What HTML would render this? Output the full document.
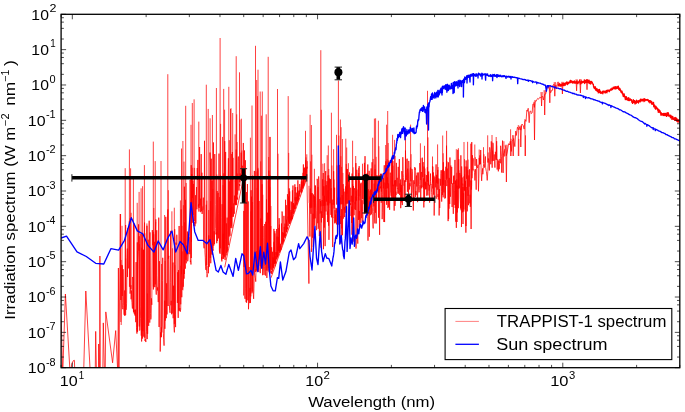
<!DOCTYPE html>
<html><head><meta charset="utf-8"><style>
html,body{margin:0;padding:0;background:#fff;width:685px;height:412px;overflow:hidden}
svg{display:block}
text{font-family:"Liberation Sans",sans-serif;fill:#000}
</style></head><body>
<svg width="685" height="412" viewBox="0 0 685 412">
<rect x="0" y="0" width="685" height="412" fill="#fff"/>
<defs><clipPath id="ax"><rect x="61.1" y="14.3" width="618.7" height="353.4"/></clipPath></defs>

<g clip-path="url(#ax)">
<path d="M60,300 L61.5,330 L62.7,375 L65.4,294 L70.2,375 L69.9,375 L71.9,363.6 L73.3,360.7 L74.4,360.3 L74.9,375 L83.6,375 L85.8,291 L90.4,375 L95.2,375 L95.7,331.4 L96.5,375 L98.4,375 L98.7,344 L99.3,375 L99.6,375 L99.9,256 L100.3,375 L102.8,375 L103.3,322.9 L104.5,375 L105.2,375 L105.8,311.9 L112.6,362.8 L115.7,330.6 L117.9,375 L118.4,268 L118.9,375 L120.3,214 L120.8,322 M121.2,325 L121.5,300 L121.5,291.05 L121.82,264.88 L122.19,302.68 L122.39,307.5 L122.88,309.25 L123.09,269.17 L123.28,276.86 L123.59,305.77 L123.92,314.24 L124.41,315.13 L124.68,290.47 L124.87,315.92 L125.16,296.45 L125.63,225.02 L125.92,309.5 L126.18,309.85 L126.59,303.78 L127.02,257.37 L127.33,248.56 L127.54,277.01 L127.79,228.11 L128.02,230.99 L128.4,268.36 L128.82,267.23 L129.01,247.28 L129.3,221.39 L129.62,277.45 L130.09,293.63 L130.5,289.7 L130.95,285.25 L131.13,299.22 L131.38,290.5 L131.6,298.15 L131.95,302.49 L132.42,308.54 L132.67,276.96 L133.03,280.14 L133.49,312.33 L133.85,223.06 L134.24,313.85 L134.57,314.38 L134.76,309.82 L135.16,315.81 L135.45,309.65 L135.75,322.18 L136.12,262.12 L136.48,327.48 L136.94,333.6 L137.3,242.37 L137.47,331.71 L137.87,261.3 L138.34,253 L138.57,224.39 L138.95,250.71 L139.18,236.18 L139.65,330.59 L139.92,330.11 L140.36,318.42 L140.68,306.95 L140.98,233.88 L141.47,330.96 L141.64,341.49 L142,322.63 L142.31,233.96 L142.55,338.56 L142.87,327.43 L143.35,317.9 L143.52,249.74 L143.74,336.59 L144.08,239.99 L144.54,222.6 L144.94,340.92 L145.41,339.15 L145.84,342.05 L146.07,334.67 L146.47,331.41 L146.96,225.74 L147.41,333.95 L147.72,333.45 L148.15,239.73 L148.37,318.79 L148.71,325.89 L149.18,220.72 L149.38,247.42 L149.75,322.63 L150.02,232.36 L150.48,313.43 L150.82,319.42 L151.15,317.1 L151.49,298.37 L151.81,304.84 L152.12,255.96 L152.32,230.07 L152.79,245.27 L153.26,232.16 L153.43,289.43 L153.7,234.29 L153.9,287.12 L154.24,260.82 L154.55,241.86 L154.92,287.17 L155.37,233.04 L155.8,219.34 L156.04,290.52 L156.28,294.62 L156.72,230.25 L156.93,275.82 L157.32,290.64 L157.65,287.41 L157.88,290.39 L158.06,293.11 L158.27,302.1 L158.76,217.63 L159.08,327 L159.41,261.18 L159.58,282.54 L159.99,318.75 L160.21,351.53 L160.64,332.43 L160.94,337.42 L161.37,327.35 L161.79,332.41 L162.25,326.04 L162.55,280.42 L162.71,257.79 L163.09,325.06 L163.36,333.75 L163.66,339.45 L164.07,345.63 L164.48,314.91 L164.77,300.68 L165.23,320.66 L165.59,317.14 L165.78,216.81 L165.99,299.47 L166.32,318.16 L166.63,283.32 L167.01,314.36 L167.27,284.82 L167.45,219.15 L167.86,209.46 L168.34,258.69 L168.82,255.89 L169.3,304.48 L169.73,310.62 L170.05,312.8 L170.25,282.46 L170.61,230.89 L170.95,305.26 L171.2,300.8 L171.57,314.26 L171.92,311.79 L172.15,303.84 L172.6,274.96 L172.97,262.53 L173.16,318.23 L173.53,285.71 L173.94,325.37 L174.38,332.38 L174.68,229.19 L174.97,260.23 L175.38,314.5 L175.58,327.11 L175.93,242.6 L176.19,244.76 L176.38,235.82 L176.78,234.75 L177.06,235.3 L177.42,302.95 L177.73,272.23 L178.2,317.9 L178.48,270.09 L178.78,310.73 L179.12,225.99 L179.58,310.71 L179.91,308.1 L180.29,311.71 L180.72,309.21 L181.18,209.41 L181.56,274.21 L181.98,251.38 L182.46,289.6 L182.86,290.15 L183.3,281.56 L183.74,269.56 L184.08,278.65 L184.38,186.7 L184.87,221.58 L185.14,263.46 L185.34,268.66 L185.52,199.84 L185.99,241.34 L186.23,263.34 L186.46,245.64 L186.87,255.25 L187.2,250.06 L187.47,231.58 L187.66,261.29 L187.99,259.81 L188.38,252.58 L188.7,253.55 L189.06,237.19 L189.51,251.62 L189.77,249.75 L189.93,254.19 L190.12,179.89 L190.32,262.05 L190.68,260.68 L190.98,264.49 L191.22,165.15 L191.48,241.61 L191.75,174.08 L191.95,193.21 L192.43,197.9 L192.83,180.89 L193.15,214.9 L193.38,183.93 L193.65,196.1 L194.03,225.88 L194.31,221.83 L194.58,222.24 L194.97,226.29 L195.41,222.58 L195.63,195.19 L195.82,223.49 L196.19,200.45 L196.49,187.08 L196.89,209.26 L197.26,168.02 L197.46,179.78 L197.88,159.93 L198.35,206.57 L198.56,204.29 L198.96,211.62 L199.33,201.26 L199.58,147.04 L199.86,205.44 L200.35,198.65 L200.7,212.18 L201.19,154.12 L201.45,211.26 L201.89,172.7 L202.08,213.97 L202.55,210.27 L202.96,206.28 M203,210.21 L203.34,197.61 L203.59,242.32 L203.76,245.33 L204.11,248.31 L204.49,140.81 L204.92,252.08 L205.26,257.46 L205.56,266.35 L205.95,269.92 L206.35,204.77 L206.53,271.57 L206.82,273.61 L207.06,277.2 L207.51,274.55 L207.8,273.46 L208.15,266.31 L208.35,273.13 L208.58,243.52 L208.76,235.41 L209.11,266.8 L209.56,263.74 L210.03,152.54 L210.48,165.91 L210.75,263.22 L211.23,158.73 L211.41,180.56 L211.67,251.9 L211.87,254.38 L212.1,180.62 L212.32,254.83 L212.74,248.76 L213.08,250.67 L213.46,142.47 L213.76,245.68 L214.11,231.3 L214.53,244.13 L214.77,154.05 L215.24,204.62 L215.64,228.42 L215.98,234.3 L216.39,232.48 L216.77,243.22 L217.18,191.03 L217.42,241.02 L217.83,195.81 L218.15,192.85 L218.54,238.39 L218.7,213.51 L219,153.61 L219.35,249.83 L219.55,252.65 L219.81,197.14 L220,253.85 L220.21,252.76 L220.39,223.73 L220.62,175.53 L221.1,217.57 L221.5,259.51 L221.7,256.84 L221.87,261.43 L222.11,204.2 L222.34,229.05 L222.82,258.93 L223.18,233.68 L223.57,258.81 L223.88,173.43 L224.1,249.46 L224.44,219.1 L224.7,141.09 L225.08,260.06 L225.46,239.29 L225.62,151.96 L226.01,227.06 L226.22,255.43 L226.61,223.38 L226.8,252.91 L227.13,217.6 L227.36,251.6 L227.53,247.47 L227.74,248.02 L228.11,178.78 L228.4,158.26 L228.63,245.09 L228.8,236.47 L229.27,181.35 L229.72,234.24 L230.19,235.66 L230.38,208.34 L230.64,217.63 L230.85,178.43 L231.09,210 L231.39,226.36 L231.72,206.95 L231.9,228.21 L232.22,211.88 L232.39,151.99 L232.73,194.07 L233.09,216.61 L233.55,215.19 L233.84,203.41 L234.27,213.74 L234.44,195.61 L234.91,204.39 L235.14,180.22 L235.43,182.66 L235.8,205.26 L236.22,149.63 L236.48,204.84 L236.95,197.61 L237.27,197.64 L237.67,199.58 L237.93,173.63 L238.13,161.29 L238.33,156.53 L238.64,185.88 L238.82,190.38 L239.11,190.54 L239.37,183.93 L239.8,186.09 L240.16,173.37 L240.53,177.73 L240.69,174.72 L240.9,179.77 L241.18,152.67 L241.38,171.49 L241.78,178.98 L242.11,168.23 L242.37,165.73 L242.73,167.63 L243.11,175.51 L243.32,142.96 L243.5,178 L224.7,267.4 M243.5,295.56 L243.82,210.95 L244.05,267.06 L244.22,167.29 L244.46,150.47 L244.67,295.46 L245.06,298.87 L245.38,160.25 L245.79,288.44 L246.15,302.11 L246.36,192.06 L246.6,302.72 L247.04,230.79 L247.43,184.02 L247.83,300.34 L248.26,201.44 L248.49,309.23 L248.71,302.27 L249.1,266.98 L249.52,292.18 L249.77,303.12 L250.09,287.94 L250.34,302.9 L250.64,298.05 L251.08,190.24 L251.26,275.66 L251.48,196.65 L251.68,289.6 L251.93,293.31 L252.12,292.8 L252.33,283.08 L252.67,175.63 L253.03,204.38 L253.3,294.25 L253.63,298.84 L253.91,288.9 L254.11,278.7 L254.35,170.93 L254.54,273.05 L254.94,275.48 L255.33,277.72 L255.74,281.64 L256.03,269.15 L256.26,270.27 L256.65,251.21 L257.04,265.13 L257.46,269.02 L257.62,168.79 L258.02,170.95 L258.35,257.15 L258.57,264.01 L258.78,271.98 L259.03,200.99 L259.26,258.89 L259.62,259.37 L259.8,250.05 L260.25,273.16 L260.5,257.09 L260.84,218.5 L261.14,266.26 L261.36,267.64 L261.59,264.01 L262.02,184.27 L262.35,245.35 L262.64,275.21 L262.99,226.01 L263.18,237.76 L263.57,269.88 L263.75,270.94 L264.02,274.89 L264.44,266.48 L264.73,224.01 L264.97,268.76 L265.41,275.59 L265.76,221.81 L266.03,259.57 L266.24,252.12 L266.51,199.34 L266.85,277.92 L267.22,264.84 L267.37,261.23 L267.53,212.71 L267.84,214.34 L268.03,270.68 L268.33,180.51 L268.55,223.26 L268.87,170.59 L269.05,272.19 L269.36,266.24 L269.8,175.21 L270.17,272.93 L270.33,240.52 L270.77,226.07 L270.94,260.51 L271,273.64 L271.28,273.3 L271.56,273.36 L271.71,270.88 L271.9,273.72 L272.16,270.91 L272.34,271.28 L272.54,251.77 L272.74,270.77 L272.84,257.31 L273.01,257.32 L273.23,267.45 L273.48,268.28 L273.74,240.58 L273.92,228.89 L274.19,263.51 L274.45,245.76 L274.56,258.63 L274.79,231.17 L275.04,266.26 L275.22,255.85 L275.34,262.17 L275.51,260.65 L275.76,263.67 L276.03,262.34 L276.19,254.92 L276.33,252.29 L276.6,259.35 L276.79,243.7 L277.07,236.58 L277.19,258.5 L277.33,257.42 L277.5,247.2 L277.77,246.56 L277.97,256.38 L278.11,252.99 L278.26,236.99 L278.45,248.05 L278.73,247.3 L278.88,227.92 L278.99,251.26 L279.15,218.17 L279.41,252.89 L279.55,249.78 L279.67,249.54 L279.96,249.59 L280.2,245.54 L280.36,251.23 L280.51,243.8 L280.66,247.68 L280.86,248.35 L281.13,245.36 L281.34,241.02 L281.49,223.49 L281.64,243.05 L281.88,244.14 L282.05,211.48 L282.29,213.29 L282.41,244.62 L282.57,244.44 L282.68,242.11 L282.92,238.43 L283.03,242.83 L283.21,242.6 L283.39,232.72 L283.68,240.86 L283.85,233.28 L284.14,234.87 L284.24,226.89 L284.48,235.61 L284.6,234.86 L284.87,237.95 L285.14,234.58 L285.39,236.43 L285.65,235.62 L285.82,234.92 L286.07,231.82 L286.24,205.22 L286.37,231.76 L286.57,219.7 L286.72,232.24 L286.86,227.66 L287.02,228.46 L287.23,228.81 L287.41,228.71 L287.7,228.89 L287.95,227.27 L288.13,216.6 L288.38,219.02 L288.55,196.47 L288.68,221.69 L288.97,208.59 L289.26,222.97 L289.49,220.86 L289.68,191.37 L289.8,221.8 L289.91,216.37 L290.12,223.29 L290.41,220.51 L290.52,217.68 L290.72,219.85 L290.88,210.04 L291.15,216.09 L291.44,220.56 L291.62,201.69 L291.76,218.83 L292.02,215.98 L292.12,219.16 L292.28,205.76 L292.44,190.31 L292.66,213.08 L292.94,185.51 L293.21,214.1 L293.51,213.28 L293.65,213.06 L293.81,203.81 L294.01,209.3 L294.11,212.01 L294.33,205.31 L294.52,208.51 L294.71,191.68 L294.86,184.35 L295.06,200.36 L295.35,187.16 L295.55,208.88 L295.69,202.81 L295.97,202.17 L296.24,205.62 L296.4,200.68 L296.57,197.31 L296.85,199.17 L296.97,202.78 L297.11,203.67 L297.34,187.02 L297.45,198.33 L297.72,196.29 L297.92,201.35 L298.18,190.62 L298.43,199.56 L298.57,196.25 L298.74,194.34 L299.03,194.13 L299.19,192.78 L299.39,193.82 L299.59,190.63 L299.74,196.52 L299.85,193.37 L300.07,190.97 L300.37,191.68 L300.6,191.67 L300.89,192.32 L301.19,192.43 L301.3,180.76 L301.55,178.07 L301.78,191.69 L301.97,188.97 L302.09,180.52 L302.27,187.3 L302.52,185.49 L302.74,186.69 L302.94,188.24 L303.12,187.49 L303.39,164.45 L303.51,186.74 L303.79,168.43 L303.94,185.46 L304.11,180.64 L304.27,172.27 L304.46,167.62 L304.65,176.88 L304.91,178.69 L305.07,175.24 L305.31,169.58 L305.51,178.32 L305.62,169.05 L305.77,160.12 L305.91,176.34 L306.17,176.14 L306.41,177.78 L306.56,173.02 L306.86,166.71 L306.9,178.2 L271,277.8 M271,263.42 L271.31,269.86 L271.65,247.25 L271.92,258.13 L272.21,264.74 L272.65,267.09 L273,267.14 L273.24,257.8 L273.39,264.72 L273.8,267.42 L273.99,242.21 L274.36,263.88 L274.52,246.05 L274.88,233.41 L275.1,237.85 L275.42,262.53 L275.63,259.12 L275.89,252.16 L276.28,255.01 L276.65,228.99 L277.06,239.17 L277.22,251.54 L277.53,256.9 L277.79,252.5 L277.96,255.55 L278.32,253.93 L278.68,242.51 L278.93,250.84 L279.17,240.52 L279.4,224.58 L279.69,251.29 L280.07,246.17 L280.37,247.75 L280.66,247.13 L281.08,249.71 L281.47,247.7 L281.88,243.7 L282.25,237.13 L282.57,232.19 L282.97,241.65 L283.28,241.29 L283.59,241.8 L283.74,237.98 L283.92,215.85 L284.25,236.83 L284.67,236.56 L284.98,223.61 L285.32,236.02 L285.54,199.79 L285.85,218.98 L286.08,228.84 L286.25,229.65 L286.41,225.2 L286.85,230.38 L287.05,227.09 L287.22,229.12 L287.44,194.23 L287.66,197.3 L288.02,225.85 L288.42,223.29 L288.76,207.58 L289.06,214.42 L289.22,188.38 L289.48,223.98 L289.91,201.31 L290.23,220.46 L290.59,217.78 L290.88,215.75 L291.26,212.12 L291.46,219.51 L291.61,218.78 L292.02,216.88 L292.2,217.28 L292.39,216.35 L292.7,213.45 L293.02,214.19 L293.35,211.61 L293.5,203.02 L293.94,207.12 L294.3,206.22 L294.46,209.22 L294.85,204.82 L295.25,197.16 L295.62,201.63 L296.06,198.7 L296.51,199.26 L296.7,192.65 L296.89,204.47 L297.13,197.76 L297.53,200.84 L297.89,180.32 L298.1,200.47 L298.25,199.16 L298.7,199.3 L298.92,195.67 L299.35,194.57 L299.72,184.1 L299.92,185.94 L300.12,186.9 L300.32,191.2 L300.76,188.6 L301.16,186.66 L301.42,181.57 L301.58,192.77 L301.89,182.21 L302.29,188.72 L302.65,184.43 L303.06,172.82 L303.4,181.81 L303.7,181.73 L304,184.29 L304.35,176.94 L304.66,177.51 L304.95,175.76 L305.21,181.99 L305.56,181.43 L305.84,176.17 L306.1,177.75 L306.51,178.55 L306.71,167.68 L308.9,283.6 L309.2,240 M309,185.81 L309.23,202.61 L309.57,203.76 L309.77,230.45 L309.92,236.54 L310.05,194.21 L310.38,188.55 L310.69,209.48 L310.96,213.84 L311.19,192.97 L311.36,251.87 L311.64,250 L311.98,228.65 L312.25,193.23 L312.59,237.69 L312.9,231.29 L313.05,213.66 L313.3,246.96 L313.48,194.52 L313.74,202.14 L314.03,218.77 L314.34,196.01 L314.62,225.71 L314.92,197.03 L315.06,209.49 L315.22,218.31 L315.5,185.58 L315.7,198.3 L316.06,216.42 L316.32,229.17 L316.59,230.16 L316.85,210.4 L317.18,178.83 L317.54,181.98 L317.75,223.21 L317.97,186.92 L318.17,228.82 L318.37,227.72 L318.66,176.39 L318.98,184.36 L319.16,225.86 L319.36,236.13 L319.7,228.15 L319.89,199.07 L320.04,213.49 L320.32,213.05 L320.5,200.98 L320.8,212.64 L321,247.68 L321.24,211.31 L321.46,222.36 L321.65,205.53 L321.92,201.15 L322.23,200 L322.38,217.88 L322.52,213.31 L322.64,179.35 L322.87,191.5 L323,195.64 L323.22,173 L323.43,249.21 L323.77,223.81 L323.92,186.32 L324.23,227.66 L324.38,219.69 L324.52,195.79 L324.88,212.02 L325.14,246.14 L325.44,175.17 L325.71,171.08 L325.99,211.49 L326.15,185.07 L326.39,201.6 L326.69,195.69 L327,181.16 L327.31,214.81 L327.44,211.54 L327.6,222.08 L327.83,200.9 L328.06,190.32 L328.37,198.83 L328.57,225.67 L328.69,175.33 L328.94,239.85 L329.08,228.1 L329.26,208.26 L329.54,178.48 L329.76,191.66 L329.99,203.27 L330.17,200.7 L330.32,196.51 L330.49,179.17 L330.61,199.55 L330.97,214.9 L331.13,188.18 L331.45,217.24 L331.75,203.09 L332.06,217.41 L332.21,199.63 L332.37,209.85 L332.71,247.06 L332.94,217.65 L333.12,218.04 L333.4,198.36 L333.62,171.18 L333.85,186.14 L334.08,208.53 L334.37,200.49 L334.62,187.7 L334.78,223.37 L334.98,210.12 L335.11,222.84 L335.46,214.54 L335.78,221.43 L335.99,207.83 L336.18,221.64 L336.5,224.4 L336.71,208.67 L336.84,212.79 L337.14,208.29 L337.45,235.57 L337.59,210.85 L337.9,220.19 L338.19,197.5 L338.4,224.59 L338.63,208.52 L338.95,189.85 L339.29,164.91 L339.63,175.33 L339.79,217.27 L340.11,203.63 L340.25,197.53 L340.58,224.01 L340.86,216.05 L341.19,243.66 L341.43,219.23 L341.62,209.16 L341.84,228.38 L342.16,195.08 L342.29,205.06 L342.5,235.23 L342.67,209.87 L342.89,206.53 L343.14,184.17 L343.33,218.62 L343.45,196.2 L343.69,188.74 L343.9,203.29 L344.09,210.23 L344.29,207.55 L344.52,207.11 L344.65,217.05 L344.87,191.62 L345.12,212.65 L345.43,205.21 L345.68,186.44 L345.98,204.47 L346.22,213.12 L346.56,168.93 L346.85,193.84 L347.1,184.81 L347.36,168.96 L347.68,197.79 L347.82,203.58 L348.08,177.17 L348.42,223.38 L348.63,209.56 L348.97,215.26 L349.13,223.61 L349.43,172.39 L349.62,204.86 L349.96,215.98 L350.25,203.19 L350.58,205.06 L350.72,187.76 L351.01,201.63 L351.36,195.78 L351.6,222.98 L351.8,206.61 L351.95,234.68 L352.1,173.56 L352.33,198 L352.47,229.35 L352.67,184.27 L352.9,213.06 L353.16,241.58 L353.5,186.07 L353.82,203.52 L354.05,215.23 L354.32,188.13 L354.68,190.87 L354.87,209.31 L355.05,202.29 L355.34,204.13 L355.52,196.7 L355.7,210.03 L355.88,163.1 L356.02,248.55 L356.32,190.92 L356.55,200.3 L356.79,169.76 L356.98,174.32 L357.17,196.54 L357.45,229.88 L357.62,239.11 L357.79,243.64 L358.13,189.54 L358.46,219.91 L358.71,173.02 L358.85,196.37 L359.17,166.13 L359.3,227.27 L359.54,211.1 L359.87,219.6 L360.16,198.8 L360.43,193.86 L360.71,183.6 L360.84,222.95 L361.16,182.65 L361.39,204.9 L361.67,218.15 L361.92,200.43 L362.14,200.12 L362.32,200.91 L362.54,211.47 L362.82,221.74 L362.95,184.92 L363.28,176.34 L363.54,180.36 L363.75,194.87 L364.03,204.17 L364.16,181.97 L364.44,162.87 L364.71,214.11 L365.02,156.17 L365.38,194.92 L365.65,198.5 L365.92,213.43 L366.13,179.19 L366.25,209.45 L366.61,175.86 L366.87,215.41 L367.23,173.04 L367.46,211.07 L367.58,186.38 L367.78,164.46 L367.99,240.65 L368.18,193.86 L368.37,189.3 L368.59,213.27 L368.81,213.03 L369.12,170.84 L369.29,236.75 L369.53,196.62 L369.73,199.02 L370.06,190.8 L370.31,215.24 L370.49,189.59 L370.7,194.34 L370.88,207.48 L371.17,168.41 L371.44,214.36 L371.57,174.31 L371.72,194.88 L372.08,162.26 L372.38,207.21 L372.65,213.52 L372.92,224.75 L373.16,228.4 L373.35,211.41 L373.48,192.59 L373.76,193.77 L373.96,206.37 L374.22,183.61 L374.56,216.97 L374.92,223.43 L375.1,169.33 L375.41,212.75 L375.55,205.72 L375.7,202.05 L375.99,190.75 L376.23,223.46 L376.37,193.59 L376.7,201.46 L376.93,175.15 L377.06,191.57 L377.3,188.4 L377.64,189.11 L377.94,185.1 L378.23,178.72 L378.48,217.69 L378.7,178.99 L378.89,190.01 L379.23,175.22 L379.43,215.19 L379.6,234.8 L379.9,192.09 L380.26,186.48 L380.42,188.3 L380.55,173.75 L380.9,176.23 L381.09,192.39 L381.24,202.75 L381.37,173.74 L381.58,191.61 L381.93,178.69 L382.17,219.16 L382.32,212.83 L382.65,194.61 L382.78,186.81 L383.07,178.8 L383.39,188.33 L383.54,177.83 L383.89,221.94 L384.14,170.96 L384.28,165.26 L384.41,215.99 L384.6,222.05 L384.81,198.27 L384.95,182.54 L385.17,197.91 L385.44,185.11 L385.69,182.87 L385.82,161.35 L386.01,199.47 L386.32,189.32 L386.63,204.78 L386.75,169.55 L387.05,181.69 L387.39,184.29 L387.56,177.33 L387.8,184.01 L387.94,208.05 L388.22,183.36 L388.37,190.34 L388.72,206.97 L388.93,160.56 L389.29,199.77 L389.63,209.77 L389.8,195.41 L389.94,187.25 L390.26,172.66 L390.4,175.66 L390.68,192.32 L390.94,193.11 L391.22,195.87 L391.37,158.59 L391.56,197.76 L391.69,200.75 L392.02,174.53 L392.25,160.54 L392.59,200.93 L392.91,161.08 L393.08,183.02 L393.38,190.18 L393.61,198.38 L393.84,184.65 L394.17,210.63 L394.5,180.57 L394.84,182.56 L394.97,205.93 L395.26,202.21 L395.41,179.99 L395.67,200.27 L395.81,191.66 L396.03,195.02 L396.35,162.89 L396.58,180.2 L396.89,186.48 L397.15,177.78 L397.38,188.99 L397.51,188.79 L397.74,188.44 L397.89,193.61 L398.22,166.84 L398.47,190.36 L398.79,193.73 L399.05,171.8 L399.18,168.01 L399.35,159.12 L399.7,195.08 L399.96,183.42 L400.21,187.9 L400.43,192.11 L400.6,179.49 L400.72,208.17 L401.05,187.8 L401.21,201.21 L401.39,184.94 L401.66,202.39 L401.84,171.16 L402.11,177.33 L402.29,205.06 L402.62,170.42 L402.82,157.21 L403.17,173.65 L403.45,177.45 L403.64,185.31 L403.91,184.82 L404.09,200.77 L404.24,195.65 L404.54,180.36 L404.89,194.29 L405.2,200.44 L405.47,150.53 L405.81,169.56 L406.01,169.91 L406.22,172.97 L406.5,177.64 L406.82,180.04 L406.95,172.62 L407.16,158.67 L407.41,191.8 L407.65,168.66 L407.94,171.44 L408.19,172.55 L408.34,178.46 L408.57,205.34 L408.76,160.92 L409.01,167.26 L409.18,179.8 L409.49,189.44 L409.67,186.15 L409.84,183.2 L410.09,186.29 L410.25,170.3 L410.52,167.52 L410.75,172.95 L410.99,174.14 L411.27,185.73 L411.53,201.77 L411.89,168.87 L412.19,170.1 L412.38,171.38 L412.68,190.91 L412.97,193.71 L413.32,210.52 L413.56,198.97 L413.78,180.32 L413.92,198.1 L414.21,182.67 L414.48,183.59 L414.77,167.07 L415.04,169.76 L415.32,168.38 L415.57,197.01 L415.86,191.05 L416.09,195.15 L416.25,177.7 L416.49,175.56 L416.82,186.51 L416.98,178.54 L417.23,172.65 L417.59,202.15 L417.71,193.92 L418.06,192.16 L418.34,172.51 L418.57,186.48 L418.79,190.6 L419.12,192.32 L419.35,190.72 L419.61,184.67 L419.8,163.06 L420.15,171.62 L420.41,174.05 L420.73,198.2 L420.97,185.62 L421.16,185.35 L421.38,188.29 L421.61,171.96 L421.87,174.18 L422.11,187.13 L422.29,157.66 L422.64,169.13 L422.82,177.14 L423.11,162.14 L423.29,188.42 L423.62,178.3 L423.84,207.44 L424.06,166.55 L424.31,173.29 L424.57,201.77 L424.71,174.16 L425.07,185.38 L425.38,181.5 L425.57,189.29 L425.81,182.69 L426.13,189.23 L426.25,182.25 L426.39,175.07 L426.74,195.69 L427.01,192.41 L427.35,167.2 L427.63,182.35 L427.87,194.6 L428.02,195.42 L428.18,174.5 L428.42,185.37 L428.68,171.53 L428.82,182.24 L429.07,190.56 L429.35,184.82 L429.61,202.55 L429.91,194.28 L430.27,181.72 L430.5,173.55 L430.64,181.61 L430.92,185.1 L431.06,184.42 L431.31,185.84 L431.61,192.48 L431.84,194.88 L432.2,199.08 L432.47,166.31 L432.75,188.38 L433.08,184.94 L433.38,172.44 L433.53,194.16 L433.69,194.69 L433.95,175.72 L434.17,215.5 L434.49,197.31 L434.79,177.74 L435.03,177.19 L435.31,187.36 L435.65,178.49 L435.89,171.84 L436.1,164.4 L436.22,198.71 L436.46,175.4 L436.75,182.87 L436.93,174.68 L437.2,189.74 L437.42,177.56 L437.73,169.9 L437.98,197.04 L438.16,194.13 L438.35,199.54 L438.65,178.66 L438.81,179.02 L438.98,178.76 L439.13,215.46 L439.48,189.14 L439.69,207.98 L439.97,186.22 L440.1,184.93 L440.28,178.94 L440.58,185.65 L440.83,173.82 L441.14,170.25 L441.3,173.7 L441.44,191.61 L441.7,201.58 L441.93,172.23 L442.21,170.38 L442.43,195.07 L442.76,169.56 L443.11,197.35 L443.4,162.28 L443.65,185.41 L443.93,192.44 L444.11,170.81 L444.38,173.01 L444.6,186.42 L444.89,198.64 L445.22,180.14 L445.45,197.91 L445.67,168.4 L445.97,166.73 L446.29,179.65 L446.51,145.68 L446.74,178.29 L447.06,175.18 L447.28,168.53 L447.49,179.69 L447.61,183.21 L447.96,204.06 L448.11,221.12 L448.42,162.3 L448.61,218.99 L448.75,190.59 L448.94,208.72 L449.26,177.88 L449.58,195.12 L449.72,203.95 L449.93,157.51 L450.12,187.8 L450.4,194.89 L450.53,196.66 L450.79,165.52 L451.01,174.2 L451.36,183.74 L451.69,166.96 L451.85,182.12 L452.11,207.04 L452.46,185.44 L452.81,183.19 L453.04,195.18 L453.31,213.84 L453.64,176.18 L453.87,184 L454.1,175.34 L454.26,204.9 L454.44,190.78 L454.69,190.62 L454.98,159.91 L455.25,208.03 L455.53,180.55 L455.73,221.69 L456.05,189.86 L456.34,227.86 L456.5,187.43 L456.71,179.31 L456.92,180.9 L457.08,201.7 L457.3,212.43 L457.5,204.53 L457.79,149.81 L458.12,207.84 L458.41,208.09 L458.76,159.24 L458.98,184.02 L459.18,185.78 L459.38,187.76 L459.68,187.87 L459.82,172.96 L460.14,197.93 L460.41,203.62 L460.59,208.42 L460.86,155.3 L461.09,210.24 L461.27,174.77 L461.48,227.04 L461.65,166.44 L462,184.56 L462.14,177.54 L462.38,212.37 L462.66,186.7 L462.8,183.69 L462.96,186.61 L463.15,199.58 L463.29,209.3 L463.6,193.2 L463.76,211.58 L463.89,204.53 L464.05,176.46 L464.36,190.8 L464.6,174.46 L464.72,187.7 L465.04,166.55 L465.19,209.55 L465.41,180.82 L465.55,187.66 L465.89,232.67 L466.14,160.43 L466.44,174.89 L466.6,178.81 L466.87,166.63 L467,198.73 L467.2,211.38 L467.43,208.37 L467.62,193.97 L467.81,170.16 L468.02,195.9 L468.15,190.07 L468.5,205.2 L468.85,175.4 L469.1,186.69 L469.32,182.77 L469.59,169.28 L469.79,203.35 L470.07,194.69 L470.29,206.8 L470.54,198.13 L470.83,189 L470.99,143.72 L471.26,189.64 L471.55,185.72 L471.76,142.09 L471.98,178.22 L472.21,173.62 L472.4,155.21 L472.72,166.33 L472.97,170.38 L473.24,165.93 L473.59,158.38 L473.83,158.36 M474,169.15 L474.52,172.43 L474.92,180.45 L475.46,169.24 L475.92,176.9 L476.19,189.68 L476.59,159.03 L476.9,166.9 L477.17,166.76 L477.63,167.81 L478.1,164.71 L478.47,191.27 L478.85,178.68 L479.24,157.88 L479.74,164.01 L479.96,155.4 L480.46,164.2 L480.7,149.99 L481.2,172.73 L481.65,180.87 L482.1,172.88 L482.6,168.38 L482.84,174.26 L483.38,166.24 L483.84,164.08 L484.37,167.65 L484.91,161.15 L485.41,156.47 L485.61,167.33 L486.19,170.9 L486.41,171.74 L486.91,176.82 L487.22,180.4 L487.81,171.71 L488.37,158.51 L488.87,160.57 L489.33,170.47 L489.73,147.33 L490.32,151.34 L490.77,164.26 L491.29,141.39 L491.6,149.05 L492.16,167.69 L492.37,154.77 L492.81,142.71 L493.23,143.76 L493.72,160.86 L494.19,154.43 L494.56,161.81 L494.91,167.62 L495.4,151.81 L495.62,157.03 L496.14,159.98 L496.65,141.16 L496.88,157.18 L497.2,169.53 L497.73,159.37 L498.11,160.31 L498.33,171.35 L498.77,160.79 L499.19,169.21 L499.6,163.3 L499.92,158.95 L500.31,163.22 L500.66,145.78 L500.97,150.51 L501.41,156.63 L501.69,172.56 L502.13,155.72 L502.54,140.62 L503.11,172.88 L503.45,155.22 L503.76,153.16 L504.03,153 L504.27,151.07 L504.84,148.82 M505,145.53 L505.74,147.92 L506.24,155.8 L506.95,153.38 L507.41,150.99 L508.56,143.7 L509.42,144.94 L510.29,141.25 L511.32,151.44 L512.08,141.21 L513.14,140.01 L513.67,138.56 L514.83,146.61 L515.75,131.14 L516.29,135.47 L517.44,127.21 L518.46,129.05 L519.04,129.91 L519.56,126.76 L520.87,130.14 L521.37,127.69 L521.91,124.04 L523.19,125.53 L524.17,129.1 L524.98,119.43 L526.05,121.33 L526.84,110.25 L527.35,111.29 L528.19,108.28 L529.19,122.71 L529.82,111.49 L530.73,111.04 L531.25,113.67 L532.18,112.65 L532.82,104.16 L533.91,103.93 L534.4,107.4 L535.01,100.32 L535.72,101.61 L536.99,99.53 L537.64,98.46 L538.5,99.22 L539.82,97.26 L540.76,97.86 L541.78,96.68 L542.78,96.53 L543.44,100 L544.68,94.26 L545.85,93.77 L546.58,89.41 L547.57,86.78 L548.52,86.41 L549.18,88.92 L549.68,89.6 L550.65,92.75 L551.97,89.78 L552.55,90.22 L553,85.4 L553.8,84.27 L554.31,87.11 L554.98,87.73 L555.86,85.11 L556.52,89.04 L557.42,82.36 L558.59,82.12 L559.74,86.75 M505.8,144.76 L506.4,182 L507,144.76 M512.6,135.16 L513.2,156 L513.8,135.16 M520.2,125.56 L520.8,147 L521.4,125.56 M533.9,101.8 L534.5,140 L535.1,101.8 M544.1,90.18 L544.7,115 L545.3,90.18 M541,92.04 L541.6,106 L542.2,92.04 M549.2,85.2 L549.8,102.8 L550.4,85.2 M554.2,82.12 L554.8,96.2 L555.4,82.12 M561.8,81.82 L562.4,94 L563,81.82 M576,79.35 L576.6,90.8 L577.2,79.35 M579.8,79 L580.4,93 L581,79 M586.4,79 L587,89.7 L587.6,79 M470.5,180.4 L471.1,229 L471.7,180.4 M465.4,187 L466,226 L466.6,187 M456.4,185.62 L457,222 L457.6,185.62 M462.4,187 L463,224 L463.6,187" fill="none" stroke="#ff0000" stroke-width="0.75" stroke-linejoin="bevel"/>
<path d="M558,84.96 L558.13,84.28 L558.32,85.94 L558.47,85.81 L558.67,85.38 L558.95,84.02 L559.2,84.55 L559.43,83.8 L559.72,84.05 L559.93,84.36 L560.13,85.6 L560.27,84.74 L560.47,84.5 L560.7,86.09 L560.8,85.22 L560.98,85.97 L561.21,84.54 L561.45,84.96 L561.75,85.77 L561.97,85.44 L562.19,83.91 L562.49,84.78 L562.77,83.48 L563,85.35 L563.26,85.06 L563.4,84.74 L563.55,85.47 L563.69,83.11 L563.89,85.67 L564.11,83.85 L564.39,84.8 L564.68,84.19 L564.84,83.29 L565,83.33 L565.16,85.25 L565.45,83.18 L565.57,82.99 L565.86,82.83 L566.11,83.55 L566.24,83.9 L566.4,82.84 L566.52,83.1 L566.64,82.77 L566.77,81.96 L566.97,83.9 L567.18,82.97 L567.44,84.52 L567.69,83.09 L567.94,82.27 L568.23,83.42 L568.34,83.59 L568.63,83.07 L568.76,82.79 L569.02,83.18 L569.23,82.16 L569.37,82.03 L569.59,82.11 L569.71,81.79 L569.87,81.46 L570,82.38 L570.12,80.79 L570.35,80.36 L570.63,82.54 L570.8,82.5 L571.07,80.75 L571.35,80.9 L571.65,81.96 L571.76,82.06 L571.98,81.69 L572.15,82.74 L572.25,81.89 L572.4,81.37 L572.61,82.96 L572.85,82.25 L572.97,81.53 L573.18,81.61 L573.3,81.76 L573.51,82.84 L573.74,82.71 L573.91,81.82 L574.05,82.13 L574.19,81.49 L574.33,80.97 L574.52,83.05 L574.78,81.41 L574.93,82.66 L575.11,82.44 L575.3,82.15 L575.45,82.28 L575.59,83.13 L575.81,82.98 L575.96,82.56 L576.1,83 L576.38,81.35 L576.5,82.62 L576.7,82.97 L576.97,83.1 L577.07,80.98 L577.18,81.87 L577.28,83 L577.45,83.38 L577.59,83.4 L577.76,82.93 L577.88,83.58 L578.07,82.32 L578.37,82.77 L578.61,82.1 L578.9,81.41 L579.2,81.74 L579.31,81.68 L579.52,80.53 L579.82,82.19 L580.08,82.14 L580.3,84.04 L580.41,82.52 L580.67,83.88 L580.92,81.87 L581.2,81.78 L581.36,82.04 L581.56,80.94 L581.77,83.19 L581.95,81.17 L582.22,82.23 L582.38,82.54 L582.49,81.86 L582.78,81.93 L583.05,81.62 L583.2,81.94 L583.45,81.81 L583.64,82.23 L583.85,82.43 L584.07,82.44 L584.32,79.89 L584.47,83.22 L584.72,83.42 L584.93,82.73 L585.06,82.54 L585.19,80.42 L585.46,82.61 L585.72,81.71 L585.96,81.2 L586.13,81.61 L586.39,82.33 L586.5,80.11 L586.72,81.82 L586.82,81.46 L587.1,82.25 L587.27,80.81 L587.46,82.17 L587.7,81.74 L587.94,80.21 L588.17,82.55 L588.44,82.41 L588.6,82.9 L588.8,82.23 L589.08,80.16 L589.35,83.47 L589.6,82.04 L589.72,81.49 L589.84,82.75 L590.12,81.88 L590.24,82.71 L590.45,81.33 L590.67,83.96 L590.86,82.49 L591.1,82.58 L591.32,81.47 L591.5,82.44 L591.78,82.97 L592.04,82.65 L592.2,82.07 L592.36,83.21 L592.61,83.67 L592.86,84.16 L593.03,84.02 L593.25,84.08 L593.37,84.76 L593.59,86.76 L593.79,87.38 L594.06,87.5 L594.21,87.77 L594.36,88.66 L594.48,88.69 L594.76,88.43 L595.01,86.8 L595.28,87.51 L595.43,86.94 L595.72,90.15 L595.95,88.42 L596.07,88.48 L596.24,89.27 L596.47,90.42 L596.69,89.54 L596.83,89.62 L596.95,88.6 L597.15,91.26 L597.41,90.61 L597.67,91.28 L597.83,90.67 L598.06,89.97 L598.16,89.62 L598.34,92.85 L598.49,92.21 L598.73,91.24 L598.93,90.76 L599.08,90.82 L599.24,91.58 L599.36,92.64 L599.48,89.47 L599.74,91.48 L599.97,91.63 L600.18,91.2 L600.28,91.56 L600.4,91.78 L600.53,91.34 L600.67,92.62 L600.79,93.31 L601.08,93.35 L601.36,92.44 L601.64,92.5 L601.74,92.77 L602.04,93.01 L602.32,92.48 L602.57,91.53 L602.86,93.77 L603.11,90.88 L603.37,91.86 L603.58,91.32 L603.87,91.94 L604.06,92.02 L604.33,91.87 L604.62,91.23 L604.87,92.2 L605.14,93.1 L605.24,92.63 L605.51,91.44 L605.62,91.44 L605.76,92.27 L605.99,91.9 L606.27,90.39 L606.4,91.25 L606.65,92.1 L606.9,92.82 L607.11,91.08 L607.36,91.47 L607.59,90.13 L607.86,91.11 L607.97,90.45 L608.21,90.96 L608.48,90.19 L608.73,90.79 L608.96,90.86 L609.19,91.27 L609.33,91.72 L609.6,90.52 L609.84,89.9 L610.05,90.65 L610.23,89.41 L610.38,90.15 L610.66,89.06 L610.77,89.68 L611.01,89.35 L611.3,88.85 L611.48,90.15 L611.6,89.64 L611.86,88.25 L611.96,89.26 L612.23,89.32 L612.33,89.54 L612.51,88.8 L612.78,88.93 L613.03,87.99 L613.2,88.47 L613.31,87.16 L613.51,87.49 L613.72,88.61 L613.95,87.39 L614.22,88.65 L614.46,88.2 L614.61,88.42 L614.9,86.75 L615.19,88.95 L615.43,86.97 L615.63,88.75 L615.92,86.64 L616.16,87.69 L616.39,88.09 L616.57,88.52 L616.81,87.64 L616.98,87 L617.13,88.4 L617.32,87.42 L617.62,88.12 L617.82,86.41 L617.94,87.77 L618.12,88.34 L618.31,86.19 L618.52,88.62 L618.65,88.93 L618.86,89.6 L619.04,87.84 L619.27,88.82 L619.49,89.97 L619.64,89.59 L619.86,88.33 L620.15,90.39 L620.4,89.74 L620.52,89.98 L620.77,91.27 L620.99,92.09 L621.14,92.24 L621.43,91.2 L621.54,91.44 L621.75,92.71 L621.98,91.19 L622.17,92.12 L622.34,93.56 L622.5,92.68 L622.78,94.37 L622.99,95.04 L623.27,96.23 L623.49,94.14 L623.7,95.75 L623.89,96.65 L624.15,93.82 L624.41,95.69 L624.62,95.97 L624.9,96.55 L625.17,98.28 L625.4,99.5 L625.58,97.74 L625.81,97 L626.02,96.68 L626.29,96.74 L626.49,97.3 L626.72,99.62 L626.84,97.91 L627.07,98.79 L627.21,98.7 L627.36,99.73 L627.57,100.07 L627.8,98.24 L628.06,98.66 L628.29,100.26 L628.43,99.74 L628.7,97.64 L628.82,100.47 L628.94,99.56 L629.17,99.64 L629.39,100.57 L629.6,99 L629.82,99.94 L630.07,100.01 L630.34,98.88 L630.53,100.14 L630.65,100.12 L630.84,100.25 L631.13,100 L631.29,99.6 L631.58,100.86 L631.72,100.82 L631.89,102.28 L632.06,102.42 L632.24,102.61 L632.46,101.15 L632.58,103.38 L632.82,102.29 L632.99,101.73 L633.28,99.68 L633.38,102.07 L633.53,102.35 L633.64,101.4 L633.79,100.78 L633.97,102.46 L634.13,100.61 L634.26,101.85 L634.47,100.69 L634.71,101.28 L634.9,102.41 L635.03,104.07 L635.19,101.18 L635.33,102.46 L635.6,101.6 L635.83,103.01 L635.95,101.51 L636.16,102.12 L636.41,103.15 L636.53,100.27 L636.72,101.46 L637.01,101.14 L637.21,102.05 L637.39,101.6 L637.63,102.31 L637.9,100.97 L638.15,100.68 L638.35,102.4 L638.47,102.97 L638.75,100.82 L638.9,101.74 L639.1,101.41 L639.26,100.8 L639.47,101.45 L639.66,101.47 L639.81,100.21 L639.95,101.35 L640.14,101.92 L640.34,101.35 L640.49,99.06 L640.65,100.94 L640.88,100.93 L640.98,100.04 L641.16,100.25 L641.46,100.66 L641.58,100.8 L641.73,100.51 L641.9,99.27 L642.18,100.73 L642.39,100.84 L642.6,100.45 L642.88,99.55 L643.1,99.82 L643.25,99.25 L643.46,100.33 L643.62,100.15 L643.79,100.16 L644.02,101.54 L644.14,99.75 L644.26,98.66 L644.36,98.91 L644.57,99.24 L644.77,99.36 L645.05,100.76 L645.27,100.18 L645.55,99.33 L645.8,99.54 L645.96,100.16 L646.26,100.01 L646.46,99.97 L646.65,99.68 L646.93,99.83 L647.13,100.49 L647.4,99.67 L647.61,99.41 L647.9,100.12 L648.11,99.74 L648.31,100.41 L648.46,100.07 L648.57,100.91 L648.75,101.93 L648.87,101.05 L649.15,100.75 L649.36,101.68 L649.52,101.08 L649.8,100.68 L649.91,102.91 L650.15,102.08 L650.3,101.14 L650.5,101.12 L650.66,100.76 L650.92,101.84 L651.08,101.35 L651.35,102.11 L651.55,103.95 L651.73,101.55 L651.91,104.16 L652.12,103.11 L652.37,102.78 L652.6,103.19 L652.76,103.88 L653,104.28 L653.26,104.27 L653.52,102.53 L653.64,104.04 L653.76,106.74 L654.03,105.46 L654.18,105.01 L654.42,105.64 L654.63,105.82 L654.77,106.83 L654.87,105.42 L655.05,108.38 L655.33,106.91 L655.57,109.16 L655.72,107.26 L655.95,107.59 L656.07,106.48 L656.22,107.74 L656.4,107.53 L656.69,107.85 L656.92,108.8 L657.09,108.9 L657.35,108.11 L657.62,109.72 L657.81,110.44 L657.93,110.24 L658.15,109.32 L658.26,112.23 L658.5,109.32 L658.63,109.69 L658.82,109.55 L658.97,111.58 L659.19,112.22 L659.44,111 L659.65,110.39 L659.81,110.95 L660.06,111 L660.22,111.7 L660.33,112.36 L660.47,113.23 L660.65,112.58 L660.92,115.17 L661.04,113.64 L661.31,112.83 L661.53,114.05 L661.7,114.2 L661.94,114.04 L662.18,114.97 L662.44,114.31 L662.61,113.64 L662.79,114.33 L663.07,114.44 L663.35,115.45 L663.54,114.97 L663.71,113.52 L663.96,114.09 L664.26,113.92 L664.37,115.53 L664.62,113.54 L664.81,114.75 L665.05,114.52 L665.32,113.51 L665.56,115.54 L665.76,114.82 L665.88,113.63 L666.09,114.64 L666.28,114.05 L666.55,116.36 L666.72,114.67 L666.89,114.12 L667.05,113.34 L667.18,112.76 L667.48,115.3 L667.72,113.89 L668,112.99 L668.13,115.49 L668.24,115.88 L668.44,113 L668.67,116.02 L668.81,115.92 L669.02,115.55 L669.22,115.02 L669.39,115.29 L669.65,115.53 L669.79,116.35 L670.08,116.65 L670.24,115.48 L670.42,117.77 L670.71,115.2 L670.98,116.56 L671.27,116.54 L671.4,116.99 L671.51,116.27 L671.74,117.22 L671.88,119.28 L672.11,117.27 L672.27,117.75 L672.43,118 L672.72,116.41 L672.85,118.26 L673.01,119.01 L673.15,118.26 L673.36,118.3 L673.49,118.19 L673.68,119.31 L673.97,118.7 L674.27,117.96 L674.42,119.49 L674.67,120.32 L674.92,117.78 L675.08,119.25 L675.37,119.36 L675.58,117.93 L675.86,117.5 L676.05,120.21 L676.34,119.48 L676.55,121.03 L676.76,121.1 L676.9,118.69 L677.14,119.33 L677.27,120.13 L677.55,121.83 L677.76,120.34 L677.88,120.13 L678,121.26 L678.17,119.95 L678.28,121.31 L678.41,121.76 L678.56,120.36 L678.75,120.08 L678.88,121.61 L679.13,122.06 L679.42,120.46 L679.69,120 L679.92,120.89 L680.1,122.09 L680.36,121.75 L680.6,123.02 L680.71,121.83 L680.91,121.81" fill="none" stroke="#ff0000" stroke-width="1.35" stroke-linejoin="round"/>
<path d="M120.6,300 L120.6,214 M121.1,300 L121.1,259.97 M122,296 L122,225.8 M122.5,296 L122.5,265.34 M125.2,315.04 L125.2,168.2 M125.7,315.04 L125.7,258.55 M129.4,286.8 L129.4,149.4 M129.9,286.8 L129.9,218.34 M130.6,289.2 L130.6,168.3 M131.1,289.2 L131.1,212.8 M133.4,310.4 L133.4,177 M133.9,310.4 L133.9,225.21 M137.2,331.4 L137.2,202.8 M137.7,331.4 L137.7,251.1 M139.1,326.5 L139.1,191.9 M139.6,326.5 L139.6,244.18 M141.1,335.7 L141.1,188.3 M141.6,335.7 L141.6,247.67 M142.6,331.2 L142.6,186.2 M143.1,331.2 L143.1,249.83 M144.4,337.7 L144.4,165.1 M144.9,337.7 L144.9,233.29 M146.9,339.1 L146.9,223.4 M147.4,339.1 L147.4,293.42 M153.3,286.55 L153.3,141.6 M153.8,286.55 L153.8,207.97 M155.2,284.4 L155.2,161.1 M155.7,284.4 L155.7,221.99 M161,337 L161,161 M161.5,337 L161.5,264.02 M164.6,328.8 L164.6,215 M165.1,328.8 L165.1,260.99 M167.8,306 L167.8,74.2 M168.3,306 L168.3,190.18 M171.9,313.4 L171.9,211.3 M172.4,313.4 L172.4,248.3 M174.3,323.9 L174.3,207.7 M174.8,323.9 L174.8,265.27 M180.4,304.3 L180.4,200.4 M180.9,304.3 L180.9,265.7 M181.5,297.25 L181.5,148.5 M182,297.25 L182,225.86 M182.9,286.75 L182.9,141 M183.4,286.75 L183.4,205.23 M184,274 L184,161.6 M184.5,274 L184.5,222.3 M185.7,259.9 L185.7,105.8 M186.2,259.9 L186.2,182.94 M191,258 L191,124.8 M191.5,258 L191.5,191.31 M192.3,222.7 L192.3,103 M192.8,222.7 L192.8,167.75 M194.1,221.05 L194.1,99.3 M194.6,221.05 L194.6,167.89 M198.8,208 L198.8,121.6 M199.3,208 L199.3,174.92 M206.3,265 L206.3,84.7 M206.8,265 L206.8,200.64 M208.2,267.33 L208.2,108.9 M208.7,267.33 L208.7,210.05 M210.1,257.93 L210.1,118.3 M210.6,257.93 L210.6,201.12 M212.4,248.35 L212.4,115 M212.9,248.35 L212.9,188.98 M216.4,234.6 L216.4,88 M216.9,234.6 L216.9,174.49 M220.1,248.3 L220.1,38 M220.6,248.3 L220.6,123.85 M222.5,254.63 L222.5,136.9 M223,254.63 L223,185.09 M223.7,256.14 L223.7,88.9 M224.2,256.14 L224.2,189.72 M224.6,257.27 L224.6,109.7 M225.1,257.27 L225.1,180.64 M228.8,236.62 L228.8,86.8 M229.3,236.62 L229.3,140.16 M230.5,228 L230.5,109 M231,228 L231,177.25 M231,225.47 L231,108.2 M231.5,225.47 L231.5,153.96 M232.7,216.85 L232.7,113 M233.2,216.85 L233.2,157.83 M235.1,204.69 L235.1,134.3 M235.6,204.69 L235.6,178.39 M236.2,199.11 L236.2,56.2 M236.7,199.11 L236.7,114.35 M237.1,194.55 L237.1,142 M237.6,194.55 L237.6,173.43 M239.5,182.39 L239.5,72.3 M240,182.39 L240,119.64 M241.4,172.75 L241.4,118.7 M241.9,172.75 L241.9,150.49 M250.4,296.4 L250.4,137.7 M250.9,296.4 L250.9,211.4 M252,291.6 L252,105.5 M252.5,291.6 L252.5,202.02 M255.5,272 L255.5,45.8 M256,272 L256,171.37 M256.7,270.88 L256.7,80 M257.2,270.88 L257.2,187.91 M257.5,270.12 L257.5,96.1 M258,270.12 L258,167.84 M258,269.66 L258,69.7 M258.5,269.66 L258.5,179.94 M260.2,266.2 L260.2,91.5 M260.7,266.2 L260.7,161.35 M261.4,267.4 L261.4,115.7 M261.9,267.4 L261.9,179.93 M262.3,268.41 L262.3,91.5 M262.8,268.41 L262.8,194.72 M266.2,270.59 L266.2,114.3 M266.7,270.59 L266.7,176.17 M268.2,268.09 L268.2,56.8 M268.7,268.09 L268.7,156.99 M269.4,267.73 L269.4,136.9 M269.9,267.73 L269.9,187.16 M270.4,268.64 L270.4,136.9 M270.9,268.64 L270.9,206.03 M277.5,249.77 L277.5,89 M278,249.77 L278,153.73 M288.2,220.08 L288.2,96.1 M288.7,220.08 L288.7,152.92 M305.5,172.08 L305.5,130.8 M306,172.08 L306,157.37 M306.8,168.48 L306.8,154.3 M307.3,168.48 L307.3,161.16 M310.1,207.84 L310.1,114.8 M310.6,207.84 L310.6,161.35 M311.4,207.66 L311.4,125 M311.9,207.66 L311.9,154.73 M314.4,207.23 L314.4,168.8 M314.9,207.23 L314.9,185.28 M320.8,206.31 L320.8,50.2 M321.3,206.31 L321.3,109.8 M322.9,206.01 L322.9,163.7 M323.4,206.01 L323.4,186.38 M324.6,205.77 L324.6,163.2 M325.1,205.77 L325.1,180.07 M327.2,205.4 L327.2,155.2 M327.7,205.4 L327.7,175.44 M328.3,205.24 L328.3,145.5 M328.8,205.24 L328.8,168.98 M331.4,204.91 L331.4,112.7 M331.9,204.91 L331.9,165.46 M333.6,204.76 L333.6,149.2 M334.1,204.76 L334.1,179.52 M336.5,204.57 L336.5,134.8 M337,204.57 L337,165.33 M338.4,204.44 L338.4,80.5 M338.9,204.44 L338.9,135.58 M340.4,204.31 L340.4,119.5 M340.9,204.31 L340.9,156.21 M341.1,204.26 L341.1,127.2 M341.6,204.26 L341.6,166.83 M342.4,204.17 L342.4,139 M342.9,204.17 L342.9,172.95 M345.8,203.79 L345.8,138.7 M346.3,203.79 L346.3,164.07 M346.7,203.55 L346.7,147.5 M347.2,203.55 L347.2,169.7 M348.4,203.09 L348.4,163.2 M348.9,203.09 L348.9,184.66 M352.6,201.97 L352.6,140.7 M353.1,201.97 L353.1,167.29 M355.7,201.15 L355.7,156 M356.2,201.15 L356.2,180.82 M358.6,200.37 L358.6,167.9 M359.1,200.37 L359.1,180.98 M362.5,199 L362.5,163.7 M363,199 L363,177.09 M372.7,194.92 L372.7,137.7 M373.2,194.92 L373.2,158.93 M374.4,194.24 L374.4,118.6 M374.9,194.24 L374.9,164.53 M375.6,193.72 L375.6,118.3 M376.1,193.72 L376.1,156.84 M378.4,192.41 L378.4,120.7 M378.9,192.41 L378.9,146.22 M385.7,189.01 L385.7,145 M386.2,189.01 L386.2,165.1 M386.6,188.59 L386.6,124.7 M387.1,188.59 L387.1,159.16 M387.7,188.07 L387.7,111 M388.2,188.07 L388.2,143.03 M392.6,186.13 L392.6,134.8 M393.1,186.13 L393.1,165.58 M394.6,185.47 L394.6,139.9 M395.1,185.47 L395.1,155.92 M405.5,181.93 L405.5,135.7 M406,181.93 L406,159.17 M410.6,181.25 L410.6,124.6 M411.1,181.25 L411.1,154.2 M420.4,180.08 L420.4,143.3 M420.9,180.08 L420.9,158.25 M424.5,180.9 L424.5,145.8 M425,180.9 L425,168.48 M427.5,181.5 L427.5,90.8 M428,181.5 L428,137.4 M432.5,182.5 L432.5,156.5 M433,182.5 L433,166.62 M437.6,183.69 L437.6,144.4 M438.1,183.69 L438.1,167.05 M442.7,185.05 L442.7,135.5 M443.2,185.05 L443.2,153.26 M446.6,186.09 L446.6,130.8 M447.1,186.09 L447.1,161.46 M456.3,188.45 L456.3,149.2 M456.8,188.45 L456.8,172.77 M458.4,188.94 L458.4,148.2 M458.9,188.94 L458.9,170.26 M464,190 L464,142 M464.5,190 L464.5,159.13 M467.6,190 L467.6,141.8 M468.1,190 L468.1,159.59 M474.8,165.8 L474.8,144.5 M475.3,165.8 L475.3,157.26 M479.2,164.7 L479.2,149.5 M479.7,164.7 L479.7,158.68 M483.5,163.62 L483.5,147.2 M484,163.62 L484,154.28 M487.7,162.57 L487.7,135.3 M488.2,162.57 L488.2,152.44 M492,161.2 L492,135 M492.5,161.2 L492.5,150.56 M496.2,159.52 L496.2,137 M496.7,159.52 L496.7,145.61 M503.9,156.44 L503.9,141.2 M504.4,156.44 L504.4,150.58 M510.6,156 L510.6,129.3 M511.1,156 L511.1,138.76 M518.3,156 L518.3,125.1 M518.8,156 L518.8,138.92 M525,156 L525,120.8 M525.5,156 L525.5,135.33" fill="none" stroke="#ff0000" stroke-width="0.75"/>
<path d="M61.1,238 L66.5,236.2 L77,251.8 L86.3,256.5 L95.7,263.3 L103.8,264 L110.9,248.7 L118.6,250.1 L124.5,240.3 L131.3,217.7 L137.3,230.9 L142.9,233.9 L148,245.4 L153.9,252 L158.2,241 L163.2,249.8 L168,237.6 L172,231 L175.7,252 L180.1,241.5 L183.3,244.8 L187.3,253.5 L191,202.6 L194.7,231.7 L198.2,240.4 L203,240.4 L206.9,243.7 L210,239.7 L216.1,270.3 L218.3,272 L220.9,265.5 L223.1,272 L225.9,274.3 L228.8,264.4 L233.1,276.4 L235.7,258.5 L238.4,270.3 L242,253.8 L243.7,255.5 L246.5,273.8 L248.5,273.3 L251,270.4 L252.7,275 L255,252.1 L257.8,271.6 L260.4,246.6 L261.7,268.2 L263.8,252.1 L265.5,264 L267.5,243.2 L269.2,269.1 L270.9,286 L273.1,290.8 L275.3,290.8 L277.4,277.6 L278.7,278.4 L280.4,261.9 L282.8,280.1 L285.9,271.6 L289.3,252.1 L291,250 L293.5,259.7 L295.7,257.2 L298.6,243.6 L299.8,248.7 L303.7,243.6 L307.1,236.8 L308.8,240.2 L310,256.3 L312,270 L314.9,226.2 L316.5,258 L318,264.5 L320.2,231.7 L321.6,251.4 L323.1,261.6 L325.3,253.6 L326.7,258 L328.9,258.7 L331.8,266 L332.17,262.31 L332.53,261.35 L332.9,258.08 L333.27,256.77 L333.63,254.44 L334,251.4 L334.38,246.04 L334.75,242.51 L335.12,243.19 L335.5,238.3 L335.87,236.41 L336.23,235.56 L336.6,238.48 L336.97,235.22 L337.33,236.25 L337.7,233.9 L338.3,146 L338.68,170.41 L339.05,195.72 L339.43,217.9 L339.8,244.1 L340.18,242.57 L340.55,241.52 L340.93,237.69 L341.3,235.4 L341.77,241.42 L342.23,245.96 L342.7,250 L343.07,250.08 L343.45,255.59 L343.82,256.96 L344.2,258.7 L344.57,250.47 L344.95,241.9 L345.32,238.63 L345.7,229.6 L346.5,206.6 L347.1,251.4 L347.47,243.47 L347.83,236.85 L348.2,228 L348.7,216.22 L349.2,200.8 L350,248.5 L350.5,244.28 L351,238 L351.4,242.05 L351.8,241.56 L352.2,244.1 L352.57,238.99 L352.95,230.73 L353.32,226.54 L353.7,217.9 L354.4,246.3 L354.77,244.69 L355.13,237.5 L355.5,236 L355.87,235.02 L356.23,236.17 L356.6,238.3 L357.1,235.88 L357.6,229 L358,230.33 L358.4,232.87 L358.8,233.9 L359.27,229.64 L359.73,227.33 L360.2,224 L360.57,224.48 L360.95,225.33 L361.32,227.48 L361.7,228.1 L362.13,226.14 L362.57,225.31 L363,221 L363.4,222.2 L363.8,223.71 L364.2,223.69 L364.6,222.3 L364.98,223 L365.36,219.8 L365.74,215.7 L366.12,217.39 L366.5,214 L366.88,215.39 L367.26,214.26 L367.64,211.81 L368.02,211.67 L368.4,209.8 L368.76,207.19 L369.12,208.95 L369.48,206.49 L369.84,203.89 L370.2,201.6 L370.56,204.18 L370.92,203.61 L371.28,198.06 L371.64,200.26 L372,197.6 L372.37,196.69 L372.74,194.96 L373.11,195.17 L373.48,196.97 L373.85,196.99 L374.22,192.53 L374.59,194.79 L374.96,191.58 L375.33,194.33 L375.7,192.8 L376.06,191.01 L376.42,192.67 L376.78,192.17 L377.14,188.91 L377.5,190.29 L377.86,186.01 L378.22,183.91 L378.58,185.44 L378.94,181.73 L379.3,183 L379.67,180.71 L380.04,180.88 L380.41,181.01 L380.78,177.99 L381.15,176.6 L381.52,179.73 L381.89,176.23 L382.26,178.48 L382.63,177.34 L383,174.6 L383.4,173.61 L383.8,173.61 L384.2,173.5 L384.6,173.7 L385,172.61 L385.36,172.46 L385.76,171.56 L386.17,168.56 L386.46,170.96 L386.79,170.23 L387,168.39 L387.24,168.2 L387.56,165.73 L387.79,166.23 L388.19,167.25 L388.41,166.98 L388.62,165.91 L388.83,163.14 L389.22,163.19 L389.45,165.84 L389.84,162.31 L390.25,162.57 L390.59,160.49 L391,161.84 L391.41,162 L391.66,159.12 L391.88,157.71 L392.08,158.05 L392.4,156.01 L392.75,156.94 L393,158.81 L393.3,155.78 L393.59,157.17 L393.79,158.2 L393.97,156.71 L394.35,152.19 L394.72,153.31 L395.04,150.58 L395.23,150.29 L395.64,147.79 L396,149.67 L396.41,143.78 L396.68,143.17 L397.04,138.38 L397.4,140.31 L397.79,134.66 L398.19,134.49 L398.46,137.51 L398.86,135.29 L399.26,136.19 L399.51,134.36 L399.74,132.47 L399.95,136.4 L400.37,132.23 L400.56,137.68 L400.87,133.28 L401.11,134.27 L401.49,132.76 L401.77,129.41 L402.17,128.41 L402.47,133.34 L402.68,132.16 L403.08,130.6 L403.45,126.72 L403.74,127.36 L404.12,128.82 L404.41,134.03 L404.79,134.34 L405,139.7 L405.25,128.05 L405.08,131.32 L405.44,131.69 L405.69,131.47 L405.9,131.54 L406.32,135.86 L406.65,132.51 L406.91,129.55 L407.16,134.2 L407.55,131.1 L407.91,133.76 L408.26,132.82 L408.62,130.55 L408.97,129.8 L409.27,133.02 L409.61,129.56 L410.02,131.81 L410.34,127.24 L410.65,128.73 L410.99,130.02 L411.37,131.1 L411.74,128.85 L412.08,131.37 L412.45,128.5 L412.84,131.89 L413.18,132.72 L413.59,129.99 L413.9,127.88 L414.28,133.59 L414.57,132.2 L414.93,132.83 L415.15,133.41 L415.47,132.94 L415.75,132.95 L416.11,132.23 L416.47,126.44 L416.69,128.31 L417.02,125.27 L417.37,126.56 L417.56,124.6 L417.79,120.67 L418,121.46 L418.23,119.45 L418.41,120.35 L418.69,119.96 L419.01,115.71 L419.4,112.02 L419.68,112.51 L419.96,109.94 L420.34,109.76 L420.53,110.44 L420.73,108.92 L420.99,108.81 L421.4,110.45 L421.68,110.41 L422.02,107.35 L422.23,108.91 L422.55,111.4 L422.96,109 L423.22,110.96 L423.4,105.54 L423.72,109.06 L423.93,109.3 L424.33,107.83 L424.61,106.99 L424.86,112.31 L425.13,112.42 L425.53,110.17 L425.77,113 L426.07,109.3 L426.33,113.4 L426.6,124 L426.85,107 L426.63,108.72 L426.92,106.96 L427.25,108.49 L427.5,110.3 L427.88,104.2 L428.19,105.35 L428.5,130 L428.75,103 L428.59,107.77 L428.83,103.1 L429.05,107.06 L429.3,103.26 L429.59,102.13 L429.92,101.29 L430.13,100.52 L430.38,98.69 L430.64,96.79 L430.95,97.62 L431.21,99.28 L431.53,94.05 L431.77,96.69 L432.17,99.26 L432.49,93.03 L432.85,95.73 L433.17,97.53 L433.5,95.84 L433.9,95.01 L434.17,98.12 L434.4,94.19 L434.78,92.45 L435.16,96.63 L435.45,93.7 L435.81,97.86 L436.03,94.78 L436.34,94.71 L436.6,92.17 L436.92,96.5 L437.12,92.36 L437.49,95.99 L437.83,90.49 L438,97 L438.25,90.4 L438.18,96.83 L438.6,94.65 L438.8,95.49 L439.03,93.99 L439.44,94.18 L439.65,91.15 L440.05,89.87 L440.38,91.31 L440.6,92.5 L440.79,88.72 L441.06,88.16 L441.25,91.4 L441.61,93.07 L441.82,89.74 L442,95 L442.25,86.75 L442.08,90.6 L442.37,92.59 L442.64,86.18 L442.99,86.43 L443.32,88.49 L443.72,88.36 L444.05,86.02 L444.36,85.95 L444.72,87.77 L444.93,85.82 L445.2,89.28 L445.43,89.12 L445.76,84.79 L446.1,84.83 L446.31,88.3 L446.55,90.25 L446.85,86.43 L446.9,92.2 L447.15,84.4 L447.22,84.3 L447.57,84.35 L447.79,90.48 L448.13,85.34 L448.34,90.45 L448.68,89.29 L448.89,87.87 L449.16,85.09 L449.42,87.62 L449.68,85.96 L449.89,88.97 L450.23,88.67 L450.51,88.89 L450.82,86.99 L451.14,87.9 L451.41,83.36 L451.6,84.02 L451.79,88.69 L452.08,87.69 L452.26,85.63 L452.66,86.51 L452.94,85.35 L453,93.5 L453.25,82.31 L453.14,83.13 L453.36,84.57 L453.63,87.96 L453.85,83.56 L454.1,82.83 L454.2,92.5 L454.45,81.88 L454.35,83.25 L454.64,81.74 L455.04,83.91 L455.45,85.95 L455.79,84.33 L456.2,81.73 L456.54,82.79 L456.88,85.68 L457.1,81.95 L457.29,82.08 L457.48,83.18 L457.9,82.76 L458,88 L458.25,80.41 L458.15,83.38 L458.4,85.11 L458.75,81.04 L458.99,84.46 L459.4,84.17 L459.68,86.5 L459.86,80.22 L460.23,82.69 L460.42,83.68 L460.84,83.54 L461.1,80.66 L461.3,86.24 L461.6,86.55 L461.79,81.81 L461.98,82.9 L462.17,81.93 L462.45,82.26 L462.64,80.52 L463.06,80.98 L463.36,81.78 L463.4,97 L463.65,79.48 L463.67,79.31 L463.92,79 L464.23,82.92 L464.56,81.84 L464.79,76.99 L465.1,78.79 L465.41,77.89 L465.74,79.24 L466.14,77.08 L466.43,79.15 L466.67,75.98 L466.92,75.73 L467,83 L467.25,75.53 L467.29,78.53 L467.54,75.58 L467.74,75.94 L467.94,76.55 L468.26,75.66 L468.45,77.27 L468.65,75.27 L468.89,75.83 L469.1,75.94 L469.35,77.04 L469.67,77.42 L470,82 L470.25,74.42 L470,76.81 L470.32,75.65 L470.7,76.28 L471.11,76.42 L471.45,74.8 L471.83,75.1 L472.04,74.01 L472.26,74.61 L472.6,74.6 L472.8,76.12 L473.11,73.65 L473.3,73.94 L473.4,84.8 L473.65,73.7 L473.57,76.26 L473.98,75.42 L474.21,74.81 L474.48,74.47 L474.66,75.26 L475.04,75.67 L475.25,75.04 L475.47,75.58 L475.75,76.26 L476.12,73.68 L476.38,76.11 L476.67,74.61 L476.96,75.6 L477.36,74.84 L477.77,74.99 L477.98,75.63 L478,78 L478.25,73.38 L478.26,73.32 L478.67,73.23 L478.99,74.54 L479.38,74.26 L479.62,73.92 L479.84,74.76 L480.11,75.31 L480.35,74.15 L480.59,75.97 L480.97,75.58 L481.3,74.31 L481.51,75.53 L481.81,73.3 L482,79 L482.25,73.4 L482.03,73.47 L482.38,75.71 L482.61,75.42 L482.87,75.11 L483.26,74.95 L483.63,74.28 L483.81,74.65 L484.13,73.77 L484.4,74.13 L484.59,74.12 L484.86,74.56 L485.21,74.39 L485.6,80.1 L485.85,73.59 L485.63,75.53 L486.03,75.26 L486.37,74.89 L486.74,74.5 L487.06,75.35 L487.37,74.38 L487.57,73.91 L487.83,75.19 L488.2,75.57 L488.45,76.13 L488.7,75.63 L488.89,75.74 L489.23,76.28 L489.63,75.67 L490.01,75.84 L490.34,74.61 L490.64,76.28 L490.88,76.49 L491.19,75.14 L491.37,75.13 L491.59,75.75 L491.99,76.35 L492.31,75.16 L492.52,75.85 L492.6,80.7 L492.85,74.49 L492.83,75.92 L493.1,76.3 L493.33,75.01 L493.58,75.72 L493.97,74.73 L494.31,76.05 L494.54,74.52 L494.86,76.2 L495.25,75.98 L495.53,75.34 L495.83,76.36 L496.09,75.06 L496.41,76.49 L496.64,74.56 L496.84,75.68 L497,77.5 L497.25,74.75 L497.17,74.95 L497.39,75.81 L497.73,76.05 L498.08,74.83 L498.38,76.41 L498.79,75.44 L499.17,76.13 L499.58,75.38 L499.92,76.59 L500.22,75.23 L500.45,75.36 L500.65,75.38 L500.98,75.34 L501.34,76.51 L501.71,76.65 L502.06,76.88 L502.47,76.41 L502.89,75.61 L503.09,75.57 L503.32,76.09 L503.61,76.59 L503.97,75.71 L504.25,76.43 L504.52,75.83 L504.84,76.24 L505.18,76.44 L505.59,77.08 L505.79,76.84 L506,78.4 L506.25,76.07 L506.14,76.27 L506.35,76.52 L506.62,76.87 L507.02,76.47 L507.27,76.63 L507.61,76.99 L507.93,76.46 L508.19,77.09 L508.5,76.27 L508.78,76.5 L509.12,76.37 L509.36,76.43 L509.66,77.29 L509.97,76.77 L510.37,76.55 L510.64,77.19 L510.82,77.16 L511,79 L511.25,76.76 L511.09,76.58 L511.33,76.96 L511.6,77.02 L511.79,76.83 L512.2,77.03 L512.5,76.82 L512.74,77.4 L513.09,77.15 L513.28,77.1 L513.65,77.16 L513.97,77.42 L514.31,77.33 L514.5,77.09 L514.86,77.35 L515.25,77.59 L515.65,77.52 L516.07,77.73 L516.46,77.65 L516.83,77.8 L517.24,78 L517.48,77.95 L517.7,83.6 L517.95,78.15 L517.72,78.01 L517.97,78.09 L518.18,78.09 L518.47,78.16 L518.74,78.25 L519.13,78.34 L519.32,78.39 L519.73,78.5 L519.94,78.56 L521,78.8 L522.05,79.2 L523.1,79.68 L524.15,79.54 L525.2,79.62 L526.25,80.35 L527.3,80.26 L528.15,80.29 L528.35,81.39 L528.55,80.29 L529.4,80.5 L530.46,80.57 L531.52,81.26 L532.38,81.28 L532.58,82.63 L532.78,81.28 L533.64,81.82 L534.7,82.09 L535.76,81.88 L536.62,82.32 L536.82,83.73 L537.02,82.32 L537.88,82.56 L538.94,83.05 L540,83.1 L541.1,83.57 L542.2,84 L543.3,84.37 L544.4,85.12 L545.5,85.2 L546.4,91.2 L547.3,85.6 L548.2,85.7 L548.4,86.98 L548.6,85.7 L549.5,85.82 L550.6,85.9 L551.66,86.57 L552.72,86.45 L553.78,87.12 L554.64,87.14 L554.84,88.13 L555.04,87.14 L555.9,87.83 L556.96,88.16 L558.02,88.11 L559.08,88.8 L560.14,88.65 L561.2,89 L562.26,89.56 L563.32,90.14 L564.38,90.1 L565.44,90.93 L566.5,91.31 L567.56,91.23 L568.62,92.09 L569.68,92.16 L570.74,92.6 L571.8,92.9 L572.85,93.63 L573.9,93.28 L574.95,94.19 L576,94.16 L577.05,94.8 L578.1,94.96 L579.15,95.19 L580.2,95.22 L581.25,95.47 L582.3,95.8 L583.16,96.14 L583.36,97.45 L583.56,96.14 L584.42,96.85 L585.28,96.82 L585.48,98.5 L585.68,96.82 L586.54,97.61 L587.6,97.93 L588.66,97.65 L589.72,98.1 L590.78,98.78 L591.84,98.95 L592.9,99.2 L593.96,99.79 L595.02,99.9 L596.08,100.41 L597.14,100.69 L598.2,101.17 L599.26,101.28 L600.32,102.17 L601.38,102.46 L602.24,102.44 L602.44,103.79 L602.64,102.44 L603.5,102.8 L604.56,103.05 L605.62,103.63 L606.68,104.16 L607.74,104.82 L608.6,104.9 L608.8,105.57 L609,104.9 L609.86,105.21 L610.72,105.74 L610.92,107.51 L611.12,105.74 L611.98,106.02 L613.04,106.6 L614.1,107 L615.16,107.54 L616.22,108.19 L617.28,108.4 L618.34,108.85 L619.4,109.75 L620.46,109.8 L621.52,110.49 L622.58,111.27 L623.64,111.77 L624.7,111.9 L625.76,112.57 L626.82,113.19 L627.88,113.7 L628.94,114.3 L630,114.93 L631.06,115.17 L632.12,115.99 L633.18,116.92 L634.24,117.46 L635.3,117.6 L636.35,118.22 L637.4,118.77 L638.45,119.78 L639.5,120.51 L640.55,121.11 L641.6,121.31 L642.65,121.88 L643.7,123.06 L644.55,123.36 L644.75,124.07 L644.95,123.36 L645.8,124 L646.66,124.57 L646.86,126.23 L647.06,124.57 L647.92,124.96 L648.98,125.59 L650.04,126.55 L651.1,127.32 L652.16,127.78 L653.02,127.99 L653.22,129.51 L653.42,127.99 L654.28,128.86 L655.14,129.13 L655.34,130.63 L655.54,129.13 L656.4,129.7 L657.46,130.03 L658.52,130.87 L659.58,131.14 L660.64,131.63 L661.7,132.48 L662.76,132.7 L663.82,133.18 L664.88,133.48 L665.94,134.59 L667,134.6 L668.06,135.45 L669.12,135.94 L670.18,136.46 L671.24,136.86 L672.3,137.68 L673.36,137.65 L674.42,138.75 L675.48,138.95 L676.54,139.3 L677.6,139.9 L678.73,140.37 L679.87,140.99 L681,141.5" fill="none" stroke="#0000ff" stroke-width="1.35" stroke-linejoin="round"/>
<path d="M72,177.8 H306.8" stroke="#000" stroke-width="3.6"/>
<path d="M71.9,174.2 V181.6" stroke="#222" stroke-width="1.0"/>
<path d="M306.8,174.2 V181.6" stroke="#222" stroke-width="1.0"/>
<path d="M243.6,168.7 V203" stroke="#000" stroke-width="3.6"/>
<path d="M240.1,168.7 H247.1" stroke="#222" stroke-width="1.0"/>
<path d="M240.1,203 H247.1" stroke="#222" stroke-width="1.0"/>
<circle cx="243.6" cy="177.8" r="3.6" fill="#000"/>
<path d="M338.3,67.1 V79.8" stroke="#000" stroke-width="3.6"/>
<path d="M334.6,67.1 H342" stroke="#222" stroke-width="1.0"/>
<path d="M334.6,79.8 H342" stroke="#222" stroke-width="1.0"/>
<circle cx="338.4" cy="72.3" r="4.0" fill="#000"/>
<path d="M348.7,178.1 H381" stroke="#000" stroke-width="3.6"/>
<path d="M348.7,174.6 V181.6" stroke="#222" stroke-width="1.0"/>
<path d="M381,174.6 V181.6" stroke="#222" stroke-width="1.0"/>
<path d="M365.8,177.5 V213" stroke="#000" stroke-width="3.6"/>
<path d="M362.3,213 H369.3" stroke="#222" stroke-width="1.0"/>
<circle cx="365.8" cy="177.4" r="3.5" fill="#000"/>
<path d="M373.6,199.3 H434.9" stroke="#000" stroke-width="3.6"/>
<path d="M373.6,195.8 V202.8" stroke="#222" stroke-width="1.0"/>
<path d="M434.9,195.8 V202.8" stroke="#222" stroke-width="1.0"/>
<path d="M408.4,194.2 V206.5" stroke="#000" stroke-width="3.6"/>
<path d="M404.9,194.2 H411.9" stroke="#222" stroke-width="1.0"/>
<path d="M404.9,206.5 H411.9" stroke="#222" stroke-width="1.0"/>
<circle cx="408.4" cy="199.2" r="3.6" fill="#000"/>
</g>
<path d="M61.1,367.7 v-2.8 M61.1,14.3 v2.8 M72.32,367.7 v-5 M72.32,14.3 v5 M146.14,367.7 v-2.8 M146.14,14.3 v2.8 M189.33,367.7 v-2.8 M189.33,14.3 v2.8 M219.97,367.7 v-2.8 M219.97,14.3 v2.8 M243.73,367.7 v-2.8 M243.73,14.3 v2.8 M263.15,367.7 v-2.8 M263.15,14.3 v2.8 M279.57,367.7 v-2.8 M279.57,14.3 v2.8 M293.79,367.7 v-2.8 M293.79,14.3 v2.8 M306.34,367.7 v-2.8 M306.34,14.3 v2.8 M317.56,367.7 v-5 M317.56,14.3 v5 M391.38,367.7 v-2.8 M391.38,14.3 v2.8 M434.56,367.7 v-2.8 M434.56,14.3 v2.8 M465.2,367.7 v-2.8 M465.2,14.3 v2.8 M488.97,367.7 v-2.8 M488.97,14.3 v2.8 M508.39,367.7 v-2.8 M508.39,14.3 v2.8 M524.81,367.7 v-2.8 M524.81,14.3 v2.8 M539.03,367.7 v-2.8 M539.03,14.3 v2.8 M551.57,367.7 v-2.8 M551.57,14.3 v2.8 M562.79,367.7 v-5 M562.79,14.3 v5 M636.62,367.7 v-2.8 M636.62,14.3 v2.8 M679.8,367.7 v-2.8 M679.8,14.3 v2.8 M61.1,367.7 h5 M679.8,367.7 h-5 M61.1,357.06 h2.8 M679.8,357.06 h-2.8 M61.1,346.42 h2.8 M679.8,346.42 h-2.8 M61.1,340.2 h2.8 M679.8,340.2 h-2.8 M61.1,335.78 h2.8 M679.8,335.78 h-2.8 M61.1,332.36 h5 M679.8,332.36 h-5 M61.1,321.72 h2.8 M679.8,321.72 h-2.8 M61.1,311.08 h2.8 M679.8,311.08 h-2.8 M61.1,304.86 h2.8 M679.8,304.86 h-2.8 M61.1,300.44 h2.8 M679.8,300.44 h-2.8 M61.1,297.02 h5 M679.8,297.02 h-5 M61.1,286.38 h2.8 M679.8,286.38 h-2.8 M61.1,275.74 h2.8 M679.8,275.74 h-2.8 M61.1,269.52 h2.8 M679.8,269.52 h-2.8 M61.1,265.1 h2.8 M679.8,265.1 h-2.8 M61.1,261.68 h5 M679.8,261.68 h-5 M61.1,251.04 h2.8 M679.8,251.04 h-2.8 M61.1,240.4 h2.8 M679.8,240.4 h-2.8 M61.1,234.18 h2.8 M679.8,234.18 h-2.8 M61.1,229.76 h2.8 M679.8,229.76 h-2.8 M61.1,226.34 h5 M679.8,226.34 h-5 M61.1,215.7 h2.8 M679.8,215.7 h-2.8 M61.1,205.06 h2.8 M679.8,205.06 h-2.8 M61.1,198.84 h2.8 M679.8,198.84 h-2.8 M61.1,194.42 h2.8 M679.8,194.42 h-2.8 M61.1,191 h5 M679.8,191 h-5 M61.1,180.36 h2.8 M679.8,180.36 h-2.8 M61.1,169.72 h2.8 M679.8,169.72 h-2.8 M61.1,163.5 h2.8 M679.8,163.5 h-2.8 M61.1,159.08 h2.8 M679.8,159.08 h-2.8 M61.1,155.66 h5 M679.8,155.66 h-5 M61.1,145.02 h2.8 M679.8,145.02 h-2.8 M61.1,134.38 h2.8 M679.8,134.38 h-2.8 M61.1,128.16 h2.8 M679.8,128.16 h-2.8 M61.1,123.74 h2.8 M679.8,123.74 h-2.8 M61.1,120.32 h5 M679.8,120.32 h-5 M61.1,109.68 h2.8 M679.8,109.68 h-2.8 M61.1,99.04 h2.8 M679.8,99.04 h-2.8 M61.1,92.82 h2.8 M679.8,92.82 h-2.8 M61.1,88.4 h2.8 M679.8,88.4 h-2.8 M61.1,84.98 h5 M679.8,84.98 h-5 M61.1,74.34 h2.8 M679.8,74.34 h-2.8 M61.1,63.7 h2.8 M679.8,63.7 h-2.8 M61.1,57.48 h2.8 M679.8,57.48 h-2.8 M61.1,53.06 h2.8 M679.8,53.06 h-2.8 M61.1,49.64 h5 M679.8,49.64 h-5 M61.1,39 h2.8 M679.8,39 h-2.8 M61.1,28.36 h2.8 M679.8,28.36 h-2.8 M61.1,22.14 h2.8 M679.8,22.14 h-2.8 M61.1,17.72 h2.8 M679.8,17.72 h-2.8 M61.1,14.3 h5 M679.8,14.3 h-5" stroke="#000" stroke-width="0.7" fill="none"/>
<rect x="61.1" y="14.3" width="618.7" height="353.4" fill="none" stroke="#000" stroke-width="1.3"/>
<rect x="445.1" y="308.5" width="226.7" height="51.1" fill="#fff" stroke="#000" stroke-width="1.1"/>
<path d="M455.4,321.4 H478.9" stroke="#ff0000" stroke-width="0.5"/>
<path d="M455.4,344.3 H478.9" stroke="#0000ff" stroke-width="1.3"/>
<g style="filter:grayscale(100%)">
<text x="27.82" y="373.10" font-size="15.014" textLength="17.75" lengthAdjust="spacingAndGlyphs">10</text>
<text x="45.94" y="365.50" font-size="10.056" textLength="9.64" lengthAdjust="spacingAndGlyphs">-8</text>
<text x="27.82" y="337.76" font-size="15.014" textLength="17.75" lengthAdjust="spacingAndGlyphs">10</text>
<text x="45.94" y="330.16" font-size="10.056" textLength="9.60" lengthAdjust="spacingAndGlyphs">-7</text>
<text x="27.82" y="302.42" font-size="15.014" textLength="17.75" lengthAdjust="spacingAndGlyphs">10</text>
<text x="45.94" y="294.82" font-size="10.056" textLength="9.66" lengthAdjust="spacingAndGlyphs">-6</text>
<text x="27.82" y="267.08" font-size="15.014" textLength="17.75" lengthAdjust="spacingAndGlyphs">10</text>
<text x="45.94" y="259.48" font-size="10.056" textLength="9.62" lengthAdjust="spacingAndGlyphs">-5</text>
<text x="27.82" y="231.74" font-size="15.014" textLength="17.75" lengthAdjust="spacingAndGlyphs">10</text>
<text x="46.01" y="224.14" font-size="10.056" textLength="9.37" lengthAdjust="spacingAndGlyphs">-4</text>
<text x="27.82" y="196.40" font-size="15.014" textLength="17.75" lengthAdjust="spacingAndGlyphs">10</text>
<text x="45.94" y="188.80" font-size="10.056" textLength="9.66" lengthAdjust="spacingAndGlyphs">-3</text>
<text x="27.82" y="161.06" font-size="15.014" textLength="17.75" lengthAdjust="spacingAndGlyphs">10</text>
<text x="45.93" y="153.46" font-size="10.056" textLength="9.73" lengthAdjust="spacingAndGlyphs">-2</text>
<text x="27.82" y="125.72" font-size="15.014" textLength="17.75" lengthAdjust="spacingAndGlyphs">10</text>
<text x="45.93" y="118.12" font-size="10.056" textLength="9.70" lengthAdjust="spacingAndGlyphs">-1</text>
<text x="31.39" y="90.38" font-size="15.014" textLength="17.51" lengthAdjust="spacingAndGlyphs">10</text>
<text x="49.43" y="82.78" font-size="10.056" textLength="6.11" lengthAdjust="spacingAndGlyphs">0</text>
<text x="31.39" y="55.04" font-size="15.014" textLength="17.51" lengthAdjust="spacingAndGlyphs">10</text>
<text x="50.14" y="47.44" font-size="10.056" textLength="5.43" lengthAdjust="spacingAndGlyphs">1</text>
<text x="31.39" y="19.70" font-size="15.014" textLength="17.51" lengthAdjust="spacingAndGlyphs">10</text>
<text x="49.41" y="12.10" font-size="10.056" textLength="6.97" lengthAdjust="spacingAndGlyphs">2</text>
<text x="59.88" y="386.40" font-size="14.944" textLength="17.91" lengthAdjust="spacingAndGlyphs">10</text>
<text x="78.77" y="378.70" font-size="10.475" textLength="5.44" lengthAdjust="spacingAndGlyphs">1</text>
<text x="305.29" y="386.40" font-size="14.944" textLength="17.93" lengthAdjust="spacingAndGlyphs">10</text>
<text x="323.53" y="378.70" font-size="10.475" textLength="6.37" lengthAdjust="spacingAndGlyphs">2</text>
<text x="550.19" y="386.40" font-size="14.944" textLength="18.35" lengthAdjust="spacingAndGlyphs">10</text>
<text x="569.13" y="378.70" font-size="10.475" textLength="6.27" lengthAdjust="spacingAndGlyphs">3</text>
<text x="308.16" y="406.70" font-size="14.665" textLength="126.92" lengthAdjust="spacingAndGlyphs">Wavelength (nm)</text>
<text x="496.86" y="326.70" font-size="15.782" textLength="169.50" lengthAdjust="spacingAndGlyphs">TRAPPIST-1 spectrum</text>
<text x="496.26" y="349.80" font-size="15.782" textLength="111.20" lengthAdjust="spacingAndGlyphs">Sun spectrum</text>
<g transform="translate(15.3,318.8) rotate(-90)"><text x="-0.88" y="0.00" font-size="14.525" textLength="192.96" lengthAdjust="spacingAndGlyphs">Irradiation spectrum (W m</text><text x="192.83" y="-5.90" font-size="10.196" textLength="12.66" lengthAdjust="spacingAndGlyphs">−2</text><text x="212.94" y="0.00" font-size="14.525" textLength="24.12" lengthAdjust="spacingAndGlyphs">nm</text><text x="237.20" y="-5.90" font-size="10.196" textLength="11.94" lengthAdjust="spacingAndGlyphs">−1</text><text x="252.79" y="0.00" font-size="14.525" textLength="5.81" lengthAdjust="spacingAndGlyphs">)</text></g>
</g>
</svg></body></html>
